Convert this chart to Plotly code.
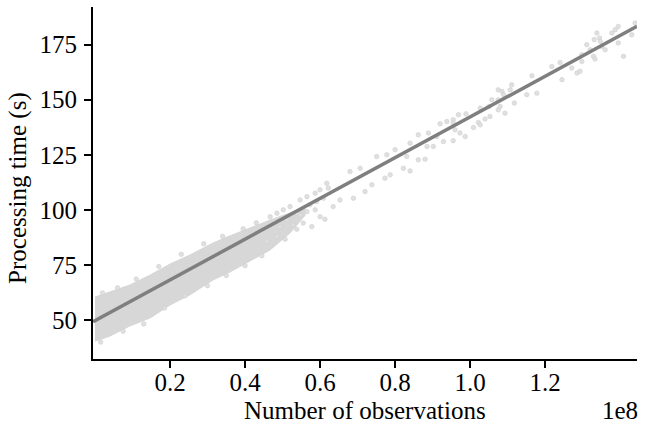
import plotly.graph_objects as go

# ---- data (x in units of 1e8 observations, y in seconds) ----
# dense part of the cloud, described by its upper and lower envelope
band_x = [0.000, 0.040, 0.093, 0.147, 0.200, 0.253, 0.315, 0.360, 0.413, 0.467, 0.520, 0.560]
band_upper = [60.4, 62.7, 65.9, 70.4, 75.4, 79.5, 85.0, 88.2, 91.8, 95.4, 98.6, 101.0]
band_lower = [40.4, 42.7, 47.3, 50.9, 56.8, 61.4, 68.2, 71.8, 76.8, 81.8, 89.5, 97.5]

# scattered observations at the rim of the dense cloud
rim_x = [0.020, 0.060, 0.110, 0.170, 0.230, 0.290, 0.340, 0.395, 0.430,
         0.015, 0.075, 0.130, 0.185, 0.240, 0.300, 0.350, 0.400, 0.445]
rim_y = [62.3, 64.6, 68.6, 74.3, 79.8, 84.6, 88.0, 91.4, 94.1,
         40.0, 44.9, 48.2, 55.4, 61.0, 65.6, 70.2, 74.6, 79.2]

# sparse individual observations
pts_x = [0.502, 0.520, 0.547, 0.565, 0.587, 0.600, 0.618, 0.622, 0.485, 0.467,
         0.507, 0.538, 0.578, 0.600, 0.613, 0.485, 0.458, 0.555, 0.529, 0.587,
         0.513, 0.493, 0.565, 0.547, 0.538, 0.573, 0.591, 0.609,
         0.635, 0.653, 0.689, 0.720, 0.738, 0.680, 0.707, 0.751, 0.778, 0.800,
         0.773, 0.787, 0.822, 0.840, 0.862, 0.880, 0.831, 0.840, 0.862, 0.889,
         0.911, 0.920, 0.938, 0.955, 0.969, 0.989, 1.027, 0.929, 0.955, 0.973,
         0.987, 1.009, 1.022, 1.040, 1.053, 1.075, 1.093, 1.118, 0.885, 0.902,
         0.955, 0.960, 1.027, 1.058, 1.075, 1.085, 1.089, 1.080, 1.107, 1.111,
         1.151, 1.165, 1.178, 1.051, 1.075,
         1.218, 1.240, 1.245, 1.271, 1.285, 1.293, 1.298, 1.298, 1.311, 1.320,
         1.329, 1.333, 1.338, 1.345, 1.347, 1.351, 1.360, 1.378, 1.387, 1.395,
         1.395, 1.409, 1.431, 1.440, 1.331]
pts_y = [100.0, 101.5, 104.5, 106.0, 107.6, 109.1, 112.1, 109.9, 98.5, 96.9,
         86.7, 91.2, 92.4, 96.9, 95.8, 87.9, 85.6, 94.0, 93.2, 100.0,
         95.4, 92.4, 99.2, 97.7, 98.5, 102.3, 103.8, 105.3,
         101.5, 104.5, 105.3, 108.3, 111.4, 117.4, 118.9, 124.2, 125.0, 127.3,
         114.4, 115.9, 118.9, 117.7, 122.7, 123.0, 124.2, 130.3, 134.1, 134.9,
         133.3, 139.1, 140.1, 140.9, 143.2, 143.6, 146.2, 131.0, 131.4, 134.9,
         133.3, 137.4, 139.7, 141.2, 142.4, 145.4, 143.9, 148.5, 128.8, 128.8,
         139.4, 136.4, 138.6, 150.0, 154.5, 153.8, 152.3, 146.9, 154.5, 156.8,
         152.3, 160.9, 153.0, 146.9, 150.0,
         165.1, 166.9, 159.1, 164.4, 162.1, 162.9, 167.4, 170.4, 175.0, 172.7,
         169.7, 168.5, 180.3, 178.0, 176.5, 174.2, 172.7, 180.3, 181.8, 183.3,
         175.8, 169.7, 179.5, 184.8, 177.3]

# fitted regression line (end points)
fit_x = [-0.0053, 1.445]
fit_y = [49.2, 183.3]

x_ticks = [0.2, 0.4, 0.6, 0.8, 1.0, 1.2]
y_ticks = [50, 75, 100, 125, 150, 175]

FONT = "Liberation Serif"
FS = 25
POINT = "rgb(215,215,215)"

fig = go.Figure()
fig.add_trace(go.Scatter(
    x=band_x + band_x[::-1], y=band_upper + band_lower[::-1],
    mode="lines", fill="toself", fillcolor=POINT,
    line=dict(width=1, color=POINT), hoverinfo="skip", showlegend=False))
fig.add_trace(go.Scatter(
    x=rim_x + pts_x, y=rim_y + pts_y, mode="markers",
    marker=dict(size=4.5, color="rgba(222,222,222,0.95)",
                line=dict(width=0.6, color="rgb(206,206,206)")),
    showlegend=False))
fig.add_trace(go.Scatter(
    x=fit_x, y=fit_y, mode="lines",
    line=dict(color="#7f7f7f", width=3.5), showlegend=False))

axis_common = dict(showgrid=False, zeroline=False, showline=True,
                   linecolor="black", linewidth=2, ticks="outside",
                   ticklen=7, tickwidth=1.5, tickcolor="black",
                   automargin=False, tickfont=dict(family=FONT, size=FS))

fig.update_layout(
    width=650, height=429, autosize=False,
    margin=dict(l=93, r=13, t=7, b=70),
    paper_bgcolor="white", plot_bgcolor="white",
    font=dict(family=FONT, size=FS, color="black"),
    xaxis=dict(range=[-0.0053, 1.445], tickvals=x_ticks, tickformat=".1f",
               ticklabelstandoff=-7, **axis_common),
    yaxis=dict(range=[32.3, 192.1], tickvals=y_ticks,
               ticklabelstandoff=2, **axis_common),
    annotations=[
        dict(text="Number of observations", xref="paper", yref="paper",
             x=0.5, y=-0.1477, xanchor="center", yanchor="middle",
             showarrow=False, font=dict(family=FONT, size=FS)),
        dict(text="Processing time (s)", xref="paper", yref="paper",
             x=-0.1379, y=0.486, xanchor="center", yanchor="middle",
             textangle=-90, showarrow=False, font=dict(family=FONT, size=FS)),
        dict(text="1e8", xref="paper", yref="paper", x=0.969, y=-0.145,
             xanchor="center", yanchor="middle", showarrow=False,
             font=dict(family=FONT, size=FS)),
    ],
)

fig.write_html("out.html",
               config={"displayModeBar": False},
               post_script="document.body.style.margin='0';document.body.style.overflow='hidden';")
